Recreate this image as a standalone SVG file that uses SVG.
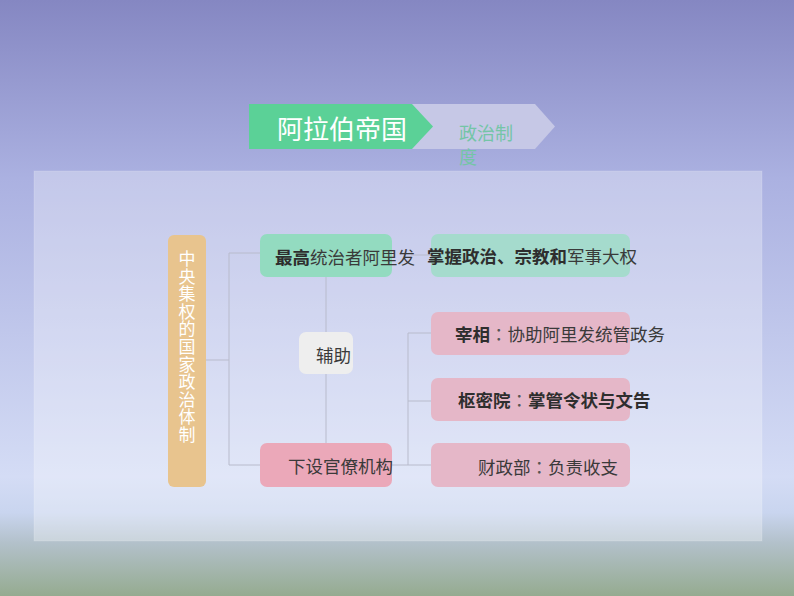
<svg xmlns="http://www.w3.org/2000/svg" width="794" height="596" viewBox="0 0 794 596">
<defs>
<linearGradient id="bg" x1="0" y1="0" x2="0" y2="1">
<stop offset="0" stop-color="#8587c2"/>
<stop offset="0.3" stop-color="#abb1e1"/>
<stop offset="0.8" stop-color="#d4dcf5"/>
<stop offset="0.86" stop-color="#c9d5ef"/>
<stop offset="0.91" stop-color="#b3c1cb"/>
<stop offset="1" stop-color="#95ab90"/>
</linearGradient>
<style>
.t{font-family:"Noto Sans CJK SC","Noto Sans",sans-serif;font-size:17.5px;fill:#3a3a3a}
.b{font-weight:bold;fill:#2e2e2e}
.k{font-family:"Noto Sans CJK TC",sans-serif;font-weight:normal;fill:#555555}
.c{stroke:#b8bbcc;stroke-width:1;fill:none}
</style>
</defs>
<rect x="0" y="0" width="794" height="596" fill="url(#bg)"/>
<rect x="34" y="171" width="728" height="370" fill="#ffffff" fill-opacity="0.3" stroke="#ffffff" stroke-opacity="0.15"/>
<g id="title">
<polygon points="410,104 535,104 555,126.5 535,149 410,149" fill="#c6c8e6"/>
<polygon points="249,104 412,104 433,126.5 412,149 249,149" fill="#5bd197"/>
<text x="277" y="139" font-family="Noto Sans CJK SC, sans-serif" font-size="26" fill="#ffffff">阿拉伯帝国</text>
<text font-family="Noto Sans CJK SC, sans-serif" font-size="18" fill="#74c5a6"><tspan x="459" y="140">政治制</tspan><tspan x="459" y="164">度</tspan></text>
</g>
<g id="connectors">
<path class="c" d="M206,360 H229 M229,253 V465 M229,253 H260 M229,465 H260"/>
<path class="c" d="M326,277 V443"/>
<path class="c" d="M411,255 H431"/>
<path class="c" d="M392,465 H408 M408,333 V465 M408,333 H431 M408,401 H431 M408,465 H431"/>
</g>
<g id="node-root">
<rect x="168" y="235" width="38" height="252" rx="6" fill="#e8c48e"/>
<text x="187" y="250" writing-mode="tb" letter-spacing="0.6" font-family="Noto Sans CJK SC, sans-serif" font-size="17" fill="#ffffff">中央集权的国家政治体制</text>
</g>
<g id="node-caliph">
<rect x="260" y="234" width="132" height="43" rx="7" fill="#93dbc0"/>
<text class="t" x="275" y="264"><tspan class="b">最高</tspan>统治者阿里发</text>
</g>
<g id="node-assist">
<rect x="299" y="332" width="54" height="42" rx="7" fill="#eeeeee"/>
<text class="t" x="316" y="362">辅助</text>
</g>
<g id="node-bureau">
<rect x="260" y="443" width="132" height="44" rx="7" fill="#eba8b9"/>
<text class="t" x="288" y="473">下设官僚机构</text>
</g>
<g id="node-power">
<rect x="431" y="234" width="199" height="43" rx="7" fill="#a5dbcd"/>
<text class="t" x="427" y="263"><tspan class="b">掌握政治、宗教和</tspan>军事大权</text>
</g>
<g id="node-vizier">
<rect x="431" y="312" width="199" height="43" rx="7" fill="#e5b7c8"/>
<text class="t" x="455" y="341"><tspan class="b">宰相</tspan><tspan class="k">：</tspan>协助阿里发统管政务</text>
</g>
<g id="node-chancery">
<rect x="431" y="378" width="199" height="43" rx="7" fill="#e5b7c8"/>
<text class="t b" x="458" y="407">枢密院<tspan class="k">：</tspan>掌管令状与文告</text>
</g>
<g id="node-treasury">
<rect x="431" y="443" width="199" height="44" rx="7" fill="#e5b7c8"/>
<text class="t" x="478" y="474">财政部<tspan class="k">：</tspan>负责收支</text>
</g>
</svg>
